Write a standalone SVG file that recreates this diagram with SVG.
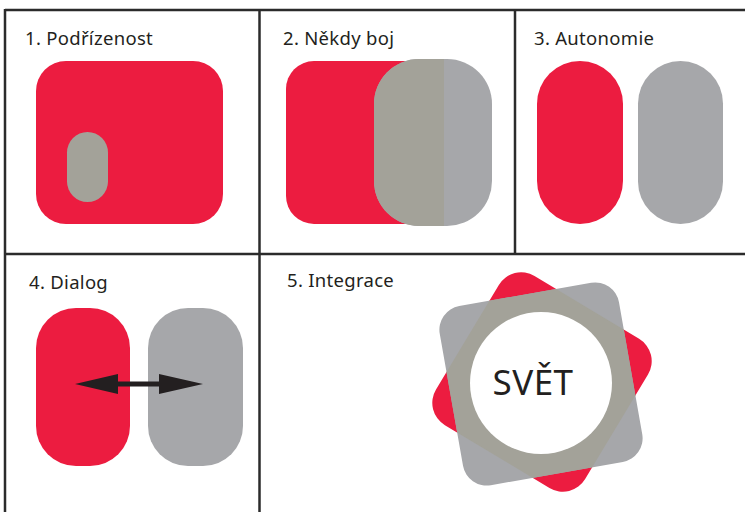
<svg xmlns="http://www.w3.org/2000/svg" width="745" height="512" viewBox="0 0 745 512">
<style>
.lbl{font-family:"Noto Sans","Open Sans",sans-serif;font-size:18.5px;letter-spacing:0.3px;fill:#231f20}
.red{fill:#ec1c40}
.gray{fill:#a6a7aa}
.mix{fill:#a3a299}
.grid{stroke:#2b2b2b;stroke-width:2.5;fill:none}
</style>
<defs>
<clipPath id="clipRed2"><rect x="286" y="55" width="158" height="175"/></clipPath>
<clipPath id="clipRed5"><rect x="-87" y="-87" width="174" height="174" rx="26" transform="translate(542,382) rotate(31)"/></clipPath>
</defs>
<g id="grid" class="grid">
<line x1="5" y1="10" x2="745" y2="10"/>
<line x1="5" y1="254" x2="745" y2="254"/>
<line x1="5" y1="9" x2="5" y2="512"/>
<line x1="259.5" y1="10" x2="259.5" y2="512"/>
<line x1="515" y1="10" x2="515" y2="254"/>
</g>
<g id="panel1">
<text class="lbl" x="25" y="45">1. Podřízenost</text>
<rect class="red" x="36" y="61" width="187" height="163" rx="30"/>
<rect class="mix" x="67" y="132" width="41" height="70" rx="20.5"/>
</g>
<g id="panel2">
<text class="lbl" x="283" y="45">2. Někdy boj</text>
<rect class="red" x="286" y="61" width="160" height="163" rx="28"/>
<rect class="gray" x="374" y="59" width="118" height="167" rx="45"/>
<g clip-path="url(#clipRed2)"><rect class="mix" x="374" y="59" width="118" height="167" rx="45"/></g>
</g>
<g id="panel3">
<text class="lbl" x="534" y="45">3. Autonomie</text>
<rect class="red" x="537" y="61" width="86" height="163" rx="43"/>
<rect class="gray" x="638" y="61" width="85" height="163" rx="42.5"/>
</g>
<g id="panel4">
<text class="lbl" x="29" y="289">4. Dialog</text>
<rect class="red" x="36" y="308" width="94" height="158" rx="40"/>
<rect class="gray" x="148" y="308" width="95" height="158" rx="40"/>
</g>
<g id="connectors">
<polygon fill="#231f20" points="75,384 118,374 118,381.5 159,381.5 159,374 203,384 159,394 159,386.5 118,386.5 118,394"/>
</g>
<g id="panel5">
<text class="lbl" x="287" y="287">5. Integrace</text>
<rect class="red" x="-87" y="-87" width="174" height="174" rx="26" transform="translate(542,382) rotate(31)"/>
<rect class="gray" x="-91" y="-91" width="182" height="182" rx="24" transform="translate(541,384) rotate(-10)"/>
<g clip-path="url(#clipRed5)"><rect class="mix" x="-91" y="-91" width="182" height="182" rx="24" transform="translate(541,384) rotate(-10)"/></g>
<circle cx="541" cy="383" r="71" fill="#ffffff"/>
<text x="533" y="395" text-anchor="middle" style="font-family:'Noto Sans','Open Sans',sans-serif;font-size:35px;letter-spacing:0.5px;fill:#231f20">SVĚT</text>
</g>
</svg>
